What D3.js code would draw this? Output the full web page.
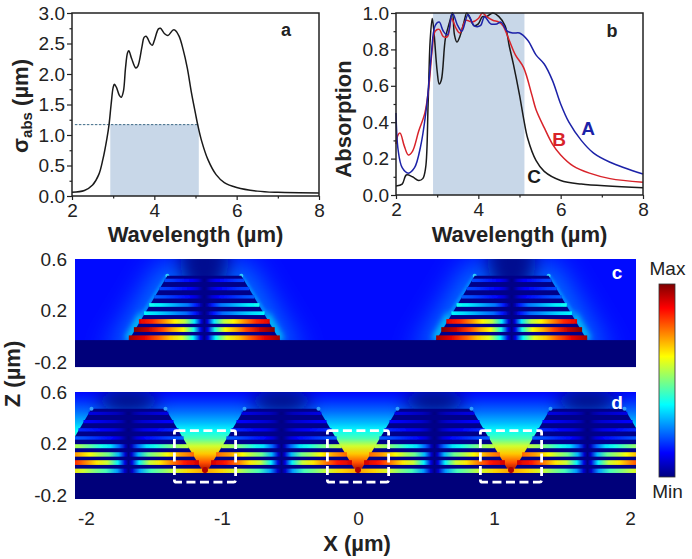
<!DOCTYPE html>
<html><head><meta charset="utf-8">
<script src="https://cdn.jsdelivr.net/npm/d3@7"></script>
<style>html,body{margin:0;padding:0;background:#fff}svg{display:block}text{font-family:"Liberation Sans",Arial,sans-serif;fill:#222}</style>
</head><body><svg id="c" width="692" height="559"></svg>
<script>
// ---- data ----
const sigmaCurve=[[2,.06],[2.3,.09],[2.5,.18],[2.65,.35],[2.75,.6],[2.85,.95],[2.9,1.17],[2.95,1.5],[3,1.78],[3.03,1.83],[3.08,1.78],[3.15,1.65],[3.2,1.62],[3.25,1.72],[3.3,2.1],[3.35,2.35],[3.38,2.38],[3.45,2.25],[3.55,2.1],[3.6,2.13],[3.7,2.45],[3.75,2.6],[3.8,2.62],[3.9,2.5],[3.95,2.47],[4,2.55],[4.1,2.74],[4.15,2.75],[4.25,2.66],[4.33,2.63],[4.45,2.72],[4.5,2.72],[4.6,2.62],[4.7,2.4],[4.8,2.1],[4.9,1.7],[5,1.35],[5.05,1.18],[5.15,.9],[5.3,.6],[5.5,.35],[5.7,.22],[6,.14],[6.5,.08],[7,.06],[8,.05]];
const absorptionC=[[2,.05],[2.15,.06],[2.25,.11],[2.4,.1],[2.55,.08],[2.65,.09],[2.72,.15],[2.78,.5],[2.83,.85],[2.88,.97],[2.92,.9],[3,.68],[3.05,.61],[3.1,.63],[3.2,.86],[3.3,.95],[3.37,1],[3.42,.88],[3.48,.84],[3.55,.87],[3.65,.95],[3.72,1],[3.8,.97],[3.9,.93],[4,.94],[4.1,.98],[4.2,.98],[4.35,1],[4.5,.98],[4.65,.93],[4.75,.82],[4.85,.72],[5,.55],[5.1,.42],[5.2,.31],[5.4,.19],[5.6,.13],[6,.08],[6.5,.06],[8,.04]];
const absorptionB=[[2,.28],[2.05,.33],[2.1,.34],[2.2,.27],[2.3,.22],[2.4,.24],[2.55,.35],[2.7,.45],[2.8,.6],[2.88,.8],[2.95,.9],[3.05,.91],[3.15,.87],[3.25,.87],[3.35,.97],[3.45,.92],[3.55,.89],[3.7,.96],[3.85,.95],[4,.97],[4.1,1],[4.2,.98],[4.35,.96],[4.5,.95],[4.6,.93],[4.75,.85],[4.9,.77],[5.1,.7],[5.3,.55],[5.4,.47],[5.6,.37],[5.8,.28],[6,.22],[6.3,.16],[6.7,.12],[7.2,.09],[8,.07]];
const absorptionA=[[2,.45],[2.05,.25],[2.15,.15],[2.3,.12],[2.45,.15],[2.6,.27],[2.75,.5],[2.85,.75],[2.95,.93],[3.05,.95],[3.15,.9],[3.25,.88],[3.37,1],[3.5,.93],[3.6,.9],[3.75,.99],[3.9,.93],[4.05,.93],[4.15,.98],[4.3,.94],[4.45,.94],[4.55,.95],[4.7,.9],[4.85,.89],[5,.89],[5.2,.85],[5.4,.77],[5.6,.72],[5.8,.63],[6,.5],[6.2,.4],[6.5,.3],[6.8,.23],[7.2,.18],[8,.115]];
const sigmaBand=[2.93,5.08], sigmaLevel=1.17, sigmaDash=[2.07,5.05];
const absBand=[2.9,5.12];
const wavelengthTicks=[2,4,6,8], sigmaTicks=[0,.5,1,1.5,2,2.5,3], absTicks=[0,.2,.4,.6,.8,1];
const xTicksUm=[-2,-1,0,1,2], zTicksUm=[-.2,.2,.6];
const layerZ=[-.012,.052,.115,.179,.243,.306,.37,.434];
const peaksC=[1,1.04,.93,.38,.4,.22,.2,.2];
const peaksD=[.74,.95,.8,.58,.22,.17,.13,.1];
const stripeProfile=[[0,0],[.05,.1],[.15,.38],[.3,.6],[.45,.68],[.6,.78],[.8,.9],[1,.97]];
const pyramidCentresC=[-1.13,1.13], pyramidCentresD=[-1.6875,-.5625,.5625,1.6875];
const notchCentres=[-1.125,0,1.125];
const pyramidTop=.47, pyramidBase=-.03, halfTop=.272, halfBase=.566;
const notchField=[[.6,.13],[.53,.17],[.45,.23],[.36,.31],[.3,.38],[.24,.45],[.18,.58],[.12,.68],[.05,.8],[-.02,.98]];
const boxHalf=.225, boxZ=[-.1,.3];
const jetStops=["#00007f","#0000ff","#007fff","#00ffff","#7fff7f","#ffff00","#ff7f00","#ff0000","#7f0000"];

// ---- set-up ----
const svg=d3.select("#c"), defs=svg.append("defs");
const jet=d3.scaleLinear().domain(d3.range(9).map(i=>i/8)).range(jetStops).clamp(true);
const blur=(id,s)=>defs.append("filter").attr("id",id).attr("x","-50%").attr("y","-50%").attr("width","200%").attr("height","200%").append("feGaussianBlur").attr("stdDeviation",s);
blur("b05",.7);blur("b1",1.4);blur("b3",3);blur("b8",9);blur("b14",14);
const tf1=d=>d.toFixed(1);

function linePanel(o){
  const x=d3.scaleLinear().domain([2,8]).range([o.l,o.r]);
  const y=d3.scaleLinear().domain(o.yDom).range([o.b,o.t]);
  const g=svg.append("g");
  o.shade(g,x,y);
  const line=d3.line().x(d=>x(d[0])).y(d=>y(d[1])).curve(d3.curveCatmullRom.alpha(.5));
  o.series.forEach(s=>g.append("path").attr("d",line(s.d)).attr("fill","none").attr("stroke",s.c).attr("stroke-width",1.5));
  const minorX=d3.range(3,8,2), minorY=o.minorY;
  const ax=g.append("g").attr("transform",`translate(0,${o.b})`).call(d3.axisBottom(x).tickValues(wavelengthTicks).tickSize(4).tickPadding(4).tickFormat(String));
  const ay=g.append("g").attr("transform",`translate(${o.l},0)`).call(d3.axisLeft(y).tickValues(o.yTicks).tickSize(5).tickPadding(2).tickFormat(tf1));
  g.append("g").attr("transform",`translate(0,${o.b})`).call(d3.axisBottom(x).tickValues(minorX).tickSize(2.5).tickFormat("")).select(".domain").remove();
  g.append("g").attr("transform",`translate(${o.l},0)`).call(d3.axisLeft(y).tickValues(minorY).tickSize(2.5).tickFormat("")).select(".domain").remove();
  g.selectAll(".tick line").attr("stroke","#222").attr("stroke-width",1.2);
  [ax,ay].forEach(a=>{a.select(".domain").remove();a.selectAll("text").attr("font-size",19).attr("font-family","Liberation Sans").attr("fill","#222")});
  g.append("rect").attr("x",o.l).attr("y",o.t).attr("width",o.r-o.l).attr("height",o.b-o.t).attr("fill","none").attr("stroke","#222").attr("stroke-width",1.5);
  g.append("text").attr("x",(o.l+o.r)/2).attr("y",242).attr("text-anchor","middle").attr("font-size",22).attr("font-weight","bold").text("Wavelength (µm)");
  g.append("text").attr("x",o.tag[0]).attr("y",o.tag[1]).attr("text-anchor","middle").attr("font-size",18).attr("font-weight","bold").text(o.tag[2]);
  return g;
}
const gA=linePanel({l:72,r:319,t:13,b:196,yDom:[0,3],yTicks:sigmaTicks,minorY:d3.range(.25,3,.5),tag:[286,36,"a"],
  series:[{d:sigmaCurve,c:"#1a1a1a"}],
  shade(g,x,y){
    g.append("rect").attr("x",x(sigmaBand[0])).attr("width",x(sigmaBand[1])-x(sigmaBand[0])).attr("y",y(sigmaLevel)).attr("height",y(0)-y(sigmaLevel)).attr("fill","#c8d7e8");
    g.append("line").attr("x1",x(sigmaDash[0])).attr("x2",x(sigmaDash[1])).attr("y1",y(sigmaLevel)).attr("y2",y(sigmaLevel)).attr("stroke","#3d6a86").attr("stroke-width",1).attr("stroke-dasharray","2.5 1.5");
  }});
const gB=linePanel({l:396,r:643,t:13,b:195,yDom:[0,1],yTicks:absTicks,minorY:d3.range(.1,1,.2),tag:[612,37,"b"],
  series:[{d:absorptionC,c:"#1a1a1a"},{d:absorptionB,c:"#d8232a"},{d:absorptionA,c:"#1c22a8"}],
  shade(g,x,y){
    g.append("rect").attr("x",x(absBand[0])).attr("width",x(absBand[1])-x(absBand[0])).attr("y",y(1)).attr("height",y(0)-y(1)).attr("fill","#c8d7e8");
  }});
[["A",588,135,"#1c22a8"],["B",559,146,"#d8232a"],["C",534,183,"#1a1a1a"]].forEach(d=>
  gB.append("text").attr("x",d[1]).attr("y",d[2]).attr("text-anchor","middle").attr("font-size",19).attr("font-weight","bold").style("fill",d[3]).text(d[0]));
const sigT=svg.append("text").attr("transform","translate(28,106) rotate(-90)").attr("text-anchor","middle").attr("font-size",22).attr("font-weight","bold");
sigT.append("tspan").text("σ");
sigT.append("tspan").attr("font-size",15).attr("dy",4).text("abs");
sigT.append("tspan").attr("dy",-4).text(" (µm)");
svg.append("text").attr("transform","translate(351,119) rotate(-90)").attr("text-anchor","middle").attr("font-size",22).attr("font-weight","bold").text("Absorption");

// ---- field maps ----
const X=d3.scaleLinear().domain([-2,2]).range([86,630]);
const L=75,R=636;
function stripeGradient(id,peak,flip){
  const gr=defs.append("linearGradient").attr("id",id).attr("x1",flip?1:0).attr("x2",flip?0:1);
  stripeProfile.forEach(p=>gr.append("stop").attr("offset",p[0]).attr("stop-color",jet(p[1]*peak)));
}
function trapezoid(c){return [[c-halfBase,pyramidBase-.02],[c-halfTop,pyramidTop],[c+halfTop,pyramidTop],[c+halfBase,pyramidBase-.02]];}
function drawStripes(g,Z,centres,peaks,prefix){
  peaks.forEach((p,i)=>{stripeGradient(prefix+"R"+i,p,false);stripeGradient(prefix+"L"+i,p,true);});
  const half=z=>halfBase+(halfTop-halfBase)*(z-pyramidBase)/(pyramidTop-pyramidBase);
  const w=z=>X(half(z))-X(0);
  const h=d=>3+1.8*Math.min(1,peaks[d.i]);
  const rows=centres.flatMap(c=>layerZ.map((z,i)=>({c,z,i})));
  const sg=g.append("g").attr("filter","url(#b05)");
  sg.selectAll(null).data(rows).join("rect")
    .attr("x",d=>X(d.c)).attr("width",d=>w(d.z))
    .attr("y",d=>Z(d.z)-h(d)/2).attr("height",h).attr("fill",d=>`url(#${prefix}R${d.i})`);
  sg.selectAll(null).data(rows).join("rect")
    .attr("x",d=>X(d.c)-w(d.z)).attr("width",d=>w(d.z))
    .attr("y",d=>Z(d.z)-h(d)/2).attr("height",h).attr("fill",d=>`url(#${prefix}L${d.i})`);
}
function lineZ(Z){return d3.line().x(d=>X(d[0])).y(d=>Z(d[1]));}

// panel c
{
  const Z=d3.scaleLinear().domain([-.2,.6]).range([362,259]);
  const zb=-.24, pline=lineZ(Z);
  defs.append("clipPath").attr("id","clipC").append("rect").attr("x",L).attr("y",Z(.6)).attr("width",R-L).attr("height",Z(zb)-Z(.6));
  const g=svg.append("g").attr("clip-path","url(#clipC)");
  g.append("rect").attr("x",L).attr("y",Z(.6)).attr("width",R-L).attr("height",Z(zb)-Z(.6)).attr("fill",jet(.135));
  g.selectAll(null).data(pyramidCentresC).join("path").attr("d",c=>pline(trapezoid(c))+"Z").attr("fill","#0070ff").attr("stroke","#0070ff").attr("stroke-width",26).attr("filter","url(#b14)");
  g.selectAll(null).data(pyramidCentresC).join("ellipse").attr("cx",c=>X(c)).attr("cy",Z(.6)).attr("rx",24).attr("ry",40).attr("fill","#000a90").attr("filter","url(#b8)");
  pyramidCentresC.forEach(c=>[-1,1].forEach(s=>{
    g.append("path").attr("d",pline([[c+s*halfBase,pyramidBase],[c+s*(halfBase-.11),pyramidBase+.2]])).attr("stroke","#00e8f0").attr("stroke-width",5).attr("fill","none").attr("filter","url(#b3)");
    g.append("path").attr("d",pline([[c+s*(halfBase-.11),pyramidBase+.2],[c+s*halfTop,pyramidTop]])).attr("stroke","#0098ff").attr("stroke-width",2.5).attr("fill","none").attr("filter","url(#b1)");
    g.append("circle").attr("cx",X(c+s*halfTop)).attr("cy",Z(pyramidTop)).attr("r",2).attr("fill","#30d0ff").attr("filter","url(#b05)");
  }));
  g.selectAll(null).data(pyramidCentresC).join("path").attr("d",c=>pline(trapezoid(c))+"Z").attr("fill","#000088");
  drawStripes(g,Z,pyramidCentresC,peaksC,"sc");
  g.append("rect").attr("x",L).attr("y",Z(pyramidBase)).attr("width",R-L).attr("height",Z(zb)-Z(pyramidBase)).attr("fill","#00007a");
  svg.append("g").attr("transform",`translate(${L},0)`).call(d3.axisLeft(Z).tickValues(zTicksUm).tickSize(0).tickPadding(8).tickFormat(tf1))
    .call(a=>{a.select(".domain").remove();a.selectAll("text").attr("font-size",19).attr("font-family","Liberation Sans").attr("fill","#222")});
  svg.append("text").attr("x",617).attr("y",279).attr("text-anchor","middle").attr("font-size",19).attr("font-weight","bold").style("fill","#fff").text("c");
}
// panel d
{
  const Z=d3.scaleLinear().domain([-.2,.6]).range([495,392]);
  const zb=-.232, pline=lineZ(Z);
  defs.append("clipPath").attr("id","clipD").append("rect").attr("x",L).attr("y",Z(.6)).attr("width",R-L).attr("height",Z(zb)-Z(.6));
  const gr=defs.append("linearGradient").attr("id","notchGrad").attr("gradientUnits","userSpaceOnUse").attr("x1",0).attr("x2",0).attr("y1",Z(.6)).attr("y2",Z(-.02));
  notchField.forEach(d=>gr.append("stop").attr("offset",(.6-d[0])/.62).attr("stop-color",jet(d[1])));
  const g=svg.append("g").attr("clip-path","url(#clipD)");
  g.append("rect").attr("x",L).attr("y",Z(.6)).attr("width",R-L).attr("height",Z(zb)-Z(.6)).attr("fill","url(#notchGrad)");
  g.selectAll(null).data(pyramidCentresD).join("ellipse").attr("cx",c=>X(c)).attr("cy",Z(.53)).attr("rx",30).attr("ry",12).attr("fill","#000a80").attr("filter","url(#b8)");
  g.selectAll(null).data(pyramidCentresD).join("path").attr("d",c=>pline(trapezoid(c))+"Z").attr("fill","#000088");
  drawStripes(g,Z,pyramidCentresD,peaksD,"sd");
  pyramidCentresD.forEach(c=>[-1,1].forEach(s=>{
    g.append("circle").attr("cx",X(c+s*halfTop)).attr("cy",Z(pyramidTop)).attr("r",2).attr("fill","#30a0ff").attr("filter","url(#b05)");
  }));
  g.append("rect").attr("x",L).attr("y",Z(pyramidBase)).attr("width",R-L).attr("height",Z(zb)-Z(pyramidBase)).attr("fill","#00007a");
  g.selectAll(null).data(notchCentres).join("circle").attr("cx",c=>X(c)).attr("cy",Z(-.005)).attr("r",3).attr("fill","#b00000").attr("filter","url(#b05)");
  svg.append("g").selectAll("rect").data(notchCentres).join("rect")
    .attr("x",c=>X(c-boxHalf)).attr("width",2*(X(boxHalf)-X(0)))
    .attr("y",Z(boxZ[1])).attr("height",Z(boxZ[0])-Z(boxZ[1])).attr("rx",2)
    .attr("fill","none").attr("stroke","#fff").attr("stroke-width",2.8).attr("stroke-dasharray","9 4.5");
  svg.append("g").attr("transform",`translate(${L},0)`).call(d3.axisLeft(Z).tickValues(zTicksUm).tickSize(0).tickPadding(8).tickFormat(tf1))
    .call(a=>{a.select(".domain").remove();a.selectAll("text").attr("font-size",19).attr("font-family","Liberation Sans").attr("fill","#222")});
  svg.append("g").attr("transform","translate(0,499)").call(d3.axisBottom(X).tickValues(xTicksUm).tickSize(0).tickPadding(13).tickFormat(String))
    .call(a=>{a.select(".domain").remove();a.selectAll("text").attr("font-size",19).attr("font-family","Liberation Sans").attr("fill","#222")});
  svg.append("text").attr("x",617).attr("y",409).attr("text-anchor","middle").attr("font-size",19).attr("font-weight","bold").style("fill","#fff").text("d");
}
svg.append("text").attr("x",357).attr("y",551).attr("text-anchor","middle").attr("font-size",22).attr("font-weight","bold").text("X (µm)");
svg.append("text").attr("transform","translate(20,374) rotate(-90)").attr("text-anchor","middle").attr("font-size",22).attr("font-weight","bold").text("Z (µm)");

// colour bar
const cbg=defs.append("linearGradient").attr("id","cb").attr("x1",0).attr("x2",0).attr("y1",1).attr("y2",0);
jetStops.forEach((c,i)=>cbg.append("stop").attr("offset",i/8).attr("stop-color",c));
svg.append("rect").attr("x",659).attr("y",284).attr("width",16).attr("height",193).attr("fill","url(#cb)").attr("stroke","#333").attr("stroke-width",.8);
svg.append("text").attr("x",667.5).attr("y",275).attr("text-anchor","middle").attr("font-size",19).text("Max");
svg.append("text").attr("x",667.5).attr("y",498).attr("text-anchor","middle").attr("font-size",19).text("Min");
</script></body></html>
